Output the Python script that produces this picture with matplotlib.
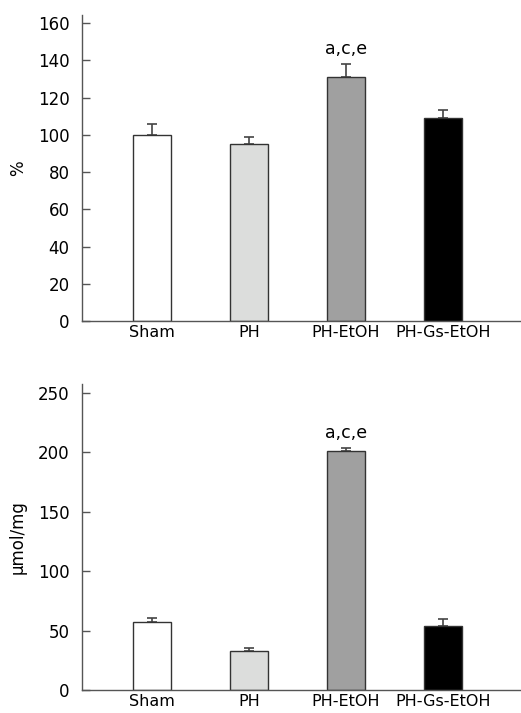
import matplotlib.pyplot as plt
import numpy as np

groups = ["Sham", "PH", "PH-EtOH", "PH-Gs-EtOH"]
colors = ["#ffffff", "#dcdddc", "#a0a0a0", "#000000"]

# top panel (%)
pct_mean = [100, 95, 131, 109]
pct_err = [6, 4, 7, 4.5]
# bottom panel (umol/mg)
umol_mean = [57, 32.5, 201, 54]
umol_err = [3.5, 3, 3, 5.5]

sig_label = "a,c,e"
sig_idx = 2

plt.rcParams["font.family"] = "DejaVu Sans"
plt.rcParams["font.size"] = 12

fig = plt.figure(figsize=(5.21, 7.13), dpi=100)
W, H = 521, 713


def add_axes(left, top, right, bottom):
    return fig.add_axes([left / W, 1 - bottom / H, (right - left) / W, (bottom - top) / H])


def draw(ax, mean, err, ymax, yticks, ylabel, off):
    x = np.arange(len(groups))
    ax.bar(x, mean, width=0.39, color=colors, edgecolor="#333333", linewidth=1.0, zorder=2)
    ax.errorbar(x, mean, yerr=[np.zeros(len(err)), err], fmt="none", ecolor="#444444",
                elinewidth=1.2, capsize=3.5, capthick=1.2, zorder=1)
    ax.text(x[sig_idx], mean[sig_idx] + err[sig_idx] + off, sig_label,
            ha="center", va="bottom", fontsize=12.5)
    ax.set_xlim(-0.722, 3.804)
    ax.set_ylim(0, ymax)
    ax.set_yticks(yticks)
    ax.set_xticks(x)
    ax.set_xticklabels(groups)
    ax.tick_params(axis="x", length=0, pad=3, labelsize=11.5)
    ax.tick_params(axis="y", direction="in", length=6, width=1, color="#555555", pad=9)
    for s in ["top", "right"]:
        ax.spines[s].set_visible(False)
    for s in ["left", "bottom"]:
        ax.spines[s].set_color("#555555")
        ax.spines[s].set_linewidth(1.0)
    ax.set_ylabel(ylabel, labelpad=8)


ax1 = add_axes(82, 15, 521, 321)
draw(ax1, pct_mean, pct_err, 164.3, range(0, 161, 20), "%", 3)

ax2 = add_axes(82, 384, 521, 690)
draw(ax2, umol_mean, umol_err, 257.5, range(0, 251, 50), "μmol/mg", 5)

fig.savefig("out.png", dpi=100)
